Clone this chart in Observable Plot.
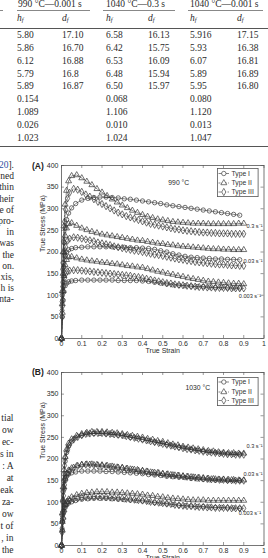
<!DOCTYPE html>
<html>
<head>
<meta charset="utf-8">
<script src="https://cdn.jsdelivr.net/npm/d3@7"></script>
<script src="https://cdn.jsdelivr.net/npm/@observablehq/plot@0.6"></script>
<style>
  html, body { margin: 0; padding: 0; background: #fff; }
  #page { position: relative; width: 268px; height: 558px; overflow: hidden; background: #fff; }
  .t { position: absolute; white-space: nowrap; font-family: "Liberation Serif", "Times New Roman", serif; font-size: 9.5px; line-height: 10px; height: 10px; color: #2a2a2a; }
  .t sub { font-size: 6.5px; vertical-align: -1px; line-height: 0; }
  .frag { text-align: right; }
  .rule { position: absolute; height: 0; }
  .chart { position: absolute; left: 0; }
  .chart svg { overflow: visible; }
  .panel { position: absolute; font: bold 8.5px "Liberation Sans", Arial, sans-serif; line-height: 10px; color: #222; }
  .legend { position: absolute; overflow: visible; }
</style>
</head>
<body>
<div id="page"></div>
<script>
// ---------- table values ----------
const groupHeads = ["990 °C—0.001 s", "1040 °C—0.3 s", "1040 °C—0.001 s"];
const tableRows = [
  ["5.80", "17.10", "6.58", "16.13", "5.916", "17.15"],
  ["5.86", "16.70", "6.42", "15.75", "5.93", "16.38"],
  ["6.12", "16.88", "6.53", "16.09", "6.07", "16.81"],
  ["5.79", "16.8", "6.48", "15.94", "5.89", "16.89"],
  ["5.89", "16.87", "6.50", "15.97", "5.95", "16.80"],
  ["0.154", "", "0.068", "", "0.080", ""],
  ["1.089", "", "1.106", "", "1.120", ""],
  ["0.026", "", "0.010", "", "0.013", ""],
  ["1.023", "", "1.024", "", "1.047", ""]
];

// ---------- body text (right-hand ends of the text column) ----------
const textLinesA = ["[<span style=\"color:#2f4f9f\">20</span>].", "ned", "thin", "heir", "e of", "pro-", "in", "was", "the", "on.", "xis,", "h is", "nta-"];
const textLinesB = ["tial", "ow", "ec-", "s in", ": A", "at", "eak", "za-", "ow", "t of", ", in", "the"];

// ---------- flow curves ----------
const types = ["Type I", "Type II", "Type III"];
const rates = ["0.3", "0.03", "0.003"];

// strain samples for each specimen type
const strainI = [0, 0.004, 0.008, 0.012, 0.018, 0.025, 0.035, 0.05, 0.07, 0.1, 0.13, 0.16, 0.19, 0.22, 0.25, 0.28, 0.31, 0.34, 0.37, 0.4, 0.43, 0.46, 0.49, 0.52, 0.55, 0.58, 0.61, 0.64, 0.67, 0.7, 0.73, 0.76, 0.79, 0.82, 0.85, 0.88];
const strainII = [0, 0.004, 0.008, 0.012, 0.018, 0.025, 0.035, 0.05, 0.075, 0.1, 0.125, 0.15, 0.175, 0.2, 0.225, 0.25, 0.275, 0.3, 0.325, 0.35, 0.375, 0.4, 0.425, 0.45, 0.475, 0.5, 0.525, 0.55, 0.575, 0.6, 0.625, 0.65, 0.675, 0.7, 0.725, 0.75, 0.775, 0.8, 0.825, 0.85, 0.875, 0.9];
const strainIII = [0, 0.003, 0.006, 0.01, 0.015, 0.02, 0.03, 0.04, 0.06, 0.08, 0.1, 0.12, 0.14, 0.16, 0.18, 0.2, 0.22, 0.24, 0.26, 0.28, 0.3, 0.32, 0.34, 0.36, 0.38, 0.4, 0.42, 0.44, 0.46, 0.48, 0.5, 0.52, 0.54, 0.56, 0.58, 0.6, 0.62, 0.64, 0.66, 0.68, 0.7, 0.72, 0.74, 0.76, 0.78, 0.8, 0.82, 0.84, 0.86, 0.88, 0.9];

// 990 °C, true stress (MPa)
const t990_r03_I = [0, 100, 175, 222, 255, 275, 290, 302, 312, 320, 324, 326, 327, 327, 326, 325, 323, 322, 320, 318, 316, 314, 312, 309, 307, 305, 303, 301, 299, 297, 295, 293, 291, 289, 287, 285];
const t990_r003_I = [0, 75, 130, 165, 190, 200, 205, 208, 210, 211, 212, 212, 212, 212, 212, 211, 211, 210, 210, 209, 208, 206, 203, 200, 196, 193, 190, 188, 187, 186, 185, 184, 184, 183, 183, 182];
const t990_r0003_I = [0, 50, 88, 108, 122, 128, 131, 133, 134, 135, 135, 135, 135, 135, 135, 134, 134, 134, 134, 133, 132, 130, 128, 126, 124, 123, 122, 121, 120, 120, 119, 118, 118, 117, 117, 117];
const t990_r03_II = [0, 110, 200, 260, 310, 342, 364, 376, 378, 371, 363, 355, 346, 338, 330, 322, 315, 308, 302, 296, 291, 286, 282, 279, 276, 274, 272, 270, 269, 268, 267, 266, 266, 266, 265, 265, 265, 265, 265, 265, 266, 266];
const t990_r003_II = [0, 80, 150, 200, 238, 255, 265, 267, 261, 255, 251, 247, 244, 241, 239, 237, 235, 233, 231, 229, 227, 226, 224, 222, 220, 219, 217, 216, 214, 213, 212, 211, 210, 209, 208, 207, 207, 206, 206, 205, 205, 205];
const t990_r0003_II = [0, 60, 110, 145, 170, 182, 188, 189, 186, 183, 181, 179, 178, 176, 175, 173, 172, 170, 168, 167, 165, 164, 161, 158, 155, 153, 150, 148, 145, 143, 140, 138, 136, 134, 132, 131, 130, 129, 128, 127, 127, 126];
const t990_r03_III = [0, 85, 160, 225, 270, 298, 324, 337, 346, 344, 339, 333, 328, 322, 316, 311, 306, 301, 296, 291, 287, 283, 280, 277, 274, 271, 268, 265, 263, 261, 259, 257, 255, 253, 252, 250, 249, 248, 247, 246, 245, 245, 244, 244, 243, 243, 243, 242, 242, 242, 242];
const t990_r003_III = [0, 65, 120, 165, 195, 212, 226, 231, 234, 233, 231, 229, 227, 225, 222, 220, 218, 216, 213, 211, 209, 207, 205, 203, 202, 200, 198, 196, 194, 193, 191, 189, 187, 185, 183, 182, 180, 179, 177, 176, 175, 174, 173, 172, 171, 171, 170, 169, 169, 168, 168];
const t990_r0003_III = [0, 50, 90, 120, 140, 149, 155, 157, 158, 158, 157, 156, 155, 154, 153, 152, 151, 150, 149, 148, 147, 146, 145, 143, 142, 140, 138, 136, 134, 132, 130, 128, 127, 125, 124, 123, 122, 121, 120, 119, 119, 118, 118, 117, 117, 117, 117, 116, 116, 116, 116];

// 1030 °C, true stress (MPa)
const t1030_r03_I = [0, 70, 125, 165, 195, 215, 230, 241, 249, 255, 258, 259, 259, 258, 257, 255, 253, 250, 248, 245, 242, 239, 236, 233, 230, 227, 225, 222, 220, 218, 216, 215, 213, 212, 211, 211];
const t1030_r003_I = [0, 55, 100, 130, 150, 160, 165, 168, 170, 172, 172, 172, 172, 171, 171, 170, 169, 168, 167, 166, 164, 163, 162, 160, 159, 158, 157, 155, 154, 153, 152, 151, 151, 150, 150, 150];
const t1030_r0003_I = [0, 35, 62, 78, 88, 94, 98, 101, 104, 107, 108, 109, 109, 109, 108, 107, 106, 105, 104, 103, 101, 99, 98, 96, 95, 93, 92, 91, 90, 90, 89, 88, 88, 87, 87, 86];
const t1030_r03_II = [0, 75, 135, 175, 205, 222, 236, 246, 254, 258, 261, 263, 263, 263, 262, 261, 260, 258, 256, 254, 252, 250, 247, 245, 242, 240, 237, 234, 232, 229, 227, 225, 223, 221, 219, 218, 216, 215, 214, 214, 213, 213];
const t1030_r003_II = [0, 55, 105, 135, 155, 166, 174, 179, 184, 187, 188, 188, 187, 186, 185, 183, 181, 180, 178, 176, 175, 173, 171, 169, 168, 166, 165, 163, 162, 160, 159, 158, 157, 156, 155, 154, 153, 153, 152, 152, 151, 151];
const t1030_r0003_II = [0, 35, 65, 82, 94, 101, 107, 112, 117, 120, 122, 123, 124, 124, 124, 123, 123, 122, 121, 120, 119, 118, 116, 115, 113, 112, 110, 109, 108, 107, 106, 105, 105, 105, 104, 104, 104, 104, 104, 104, 104, 104];
const t1030_r03_III = [0, 55, 105, 150, 185, 203, 222, 233, 245, 251, 255, 258, 259, 260, 260, 260, 259, 258, 257, 256, 255, 253, 251, 249, 247, 245, 243, 241, 239, 237, 235, 233, 231, 229, 227, 225, 223, 222, 220, 219, 217, 216, 215, 214, 213, 212, 211, 211, 210, 210, 210];
const t1030_r003_III = [0, 40, 78, 115, 140, 154, 166, 173, 180, 184, 186, 187, 187, 186, 185, 184, 183, 182, 181, 180, 179, 177, 176, 175, 173, 172, 171, 169, 168, 167, 165, 164, 163, 162, 161, 160, 159, 158, 157, 156, 155, 154, 153, 153, 152, 152, 151, 151, 150, 150, 150];
const t1030_r0003_III = [0, 30, 55, 75, 88, 95, 101, 104, 107, 109, 111, 112, 112, 113, 113, 112, 112, 111, 111, 110, 109, 108, 107, 106, 105, 104, 103, 101, 100, 99, 98, 97, 96, 94, 93, 92, 91, 91, 90, 89, 89, 88, 88, 87, 87, 87, 87, 86, 86, 86, 86];

const xTicks = [0, 0.1, 0.2, 0.3, 0.4, 0.5, 0.6, 0.7, 0.8, 0.9, 1];
const yTicks = [0, 50, 100, 150, 200, 250, 300, 350, 400];

// ---------- helpers ----------
const page = document.getElementById("page");
const strainOf = {"Type I": strainI, "Type II": strainII, "Type III": strainIII};

function rowsFor(rate, type, values) {
  return values.map((v, i) => ({strain: strainOf[type][i], stress: v, rate, type}));
}

function put(html, x, yCenter, cls, extra = "") {
  const el = document.createElement("div");
  el.className = cls;
  el.innerHTML = html;
  el.style.cssText += `left:${x}px;top:${yCenter - 5}px;${extra}`;
  page.appendChild(el);
  return el;
}

function hline(x1, x2, y, color, w = 1) {
  const el = document.createElement("div");
  el.className = "rule";
  el.style.cssText = `left:${x1}px;top:${y}px;width:${x2 - x1}px;border-top:${w}px solid ${color};`;
  page.appendChild(el);
}

// ---------- table ----------
const colX = [17, 62, 106, 148, 190, 237];
const groupX = [18, 106, 190];
const groupRule = [[17, 90], [103, 175], [188, 263], [0, 3]];
groupHeads.forEach((h, i) => put(h, groupX[i], 4, "t"));
groupRule.forEach(([a, b]) => hline(a, b, 9.5, "#888"));
colX.forEach((x, i) => put(i % 2 === 0 ? "<i>h<sub>f</sub></i>" : "<i>d<sub>f</sub></i>", x, 17.5, "t"));
hline(0, 268, 28, "#555");
tableRows.forEach((row, r) => {
  row.forEach((v, c) => { if (v) put(v, colX[c], 35 + r * 12.84, "t"); });
});
hline(0, 268, 146, "#555");

// ---------- text column ----------
textLinesA.forEach((s, i) => put(s, -60, 165 + i * 11.2, "t frag", "width:74px;"));
textLinesB.forEach((s, i) => put(s, -60, 418 + i * 12, "t frag", "width:73.5px;"));

// ---------- charts ----------
const lineDash = {"Type I": null, "Type II": "2,1.2", "Type III": "3,1.5"};
const symbolRange = ["circle", "triangle", "diamond"];
const symbolScale = Plot.scale({symbol: {domain: types, range: symbolRange}});
const ink = "#333";

function drawLegend(left, top, rowsY) {
  const w = 41.5, h = 29;
  const svg = d3.create("svg").attr("class", "legend").attr("width", w).attr("height", h)
    .style("left", left + "px").style("top", top + "px");
  svg.append("rect").attr("x", 0.4).attr("y", 0.4).attr("width", w - 0.8).attr("height", h - 0.8)
    .attr("fill", "#fff").attr("stroke", "#555").attr("stroke-width", 0.8);
  types.forEach((t, i) => {
    const y = rowsY[i];
    svg.append("line").attr("x1", 1.5).attr("x2", 12).attr("y1", y).attr("y2", y)
      .attr("stroke", ink).attr("stroke-width", 0.6).attr("stroke-dasharray", lineDash[t]);
    svg.append("path").attr("transform", `translate(6.8,${y})`)
      .attr("d", d3.symbol(symbolScale.apply(t), Math.PI * 2.2 * 2.2)())
      .attr("fill", "#fff").attr("stroke", ink).attr("stroke-width", 0.65);
    svg.append("text").attr("x", 14.5).attr("y", y).attr("dy", "0.35em")
      .attr("font-family", "'Liberation Sans', Arial, sans-serif").attr("font-size", 6.8)
      .attr("fill", "#333").text(t);
  });
  page.appendChild(svg.node());
}

function drawChart({rows, top, temp, tempDx, tempDy, labelDy, labelDx, legendTop, legendRows}) {
  const W = 268, H = 215, ML = 61, MR = 4.5, MT = 15, MB = 27;
  const plotW = W - ML - MR, plotH = H - MT - MB;
  const tickPx = 3;
  const yLen = 400 * tickPx / plotH, xLen = tickPx / plotW;

  const marks = [];
  types.forEach(t => {
    marks.push(Plot.line(rows.filter(d => d.type === t), {
      x: "strain", y: "stress", z: "rate", stroke: ink, strokeWidth: 0.6,
      strokeDasharray: lineDash[t]
    }));
  });
  marks.push(Plot.dot(rows, {x: "strain", y: "stress", symbol: "type", r: 2.2, stroke: ink, strokeWidth: 0.7, fill: "none"}));
  marks.push(Plot.frame({stroke: "#555", strokeWidth: 0.8}));
  // inward tick marks on all four sides
  marks.push(Plot.ruleX(xTicks, {x: d => d, y1: 0, y2: yLen, stroke: "#555", strokeWidth: 0.6}));
  marks.push(Plot.ruleX(xTicks, {x: d => d, y1: 400 - yLen, y2: 400, stroke: "#555", strokeWidth: 0.6}));
  marks.push(Plot.ruleY(yTicks, {y: d => d, x1: 0, x2: xLen, stroke: "#555", strokeWidth: 0.6}));
  marks.push(Plot.ruleY(yTicks, {y: d => d, x1: 1 - xLen, x2: 1, stroke: "#555", strokeWidth: 0.6}));
  marks.push(Plot.axisX({ticks: xTicks, tickSize: 0, tickPadding: 2.5, tickFormat: d => String(d), label: null}));
  marks.push(Plot.axisY({ticks: yTicks, tickSize: 0, tickPadding: 3, tickFormat: d => String(d), label: null}));
  marks.push(Plot.text(["True Strain"], {frameAnchor: "bottom", dy: 14, fontSize: 7}));
  marks.push(Plot.text(["True Stress (MPa)"], {frameAnchor: "left", rotate: -90, dx: -19, fontSize: 7}));
  marks.push(Plot.text([temp], {frameAnchor: "top", dx: tempDx, dy: tempDy, fontSize: 6.8}));
  rates.forEach((r, i) => {
    const vals = rows.filter(d => d.type === "Type II" && d.rate === r);
    const end = vals[vals.length - 1];
    marks.push(Plot.text([end], {
      y: "stress", text: () => `${r} s⁻¹`, frameAnchor: "right", textAnchor: "end",
      dx: labelDx[i], dy: labelDy[i], fontSize: 5.6
    }));
  });

  const svg = Plot.plot({
    width: W, height: H,
    marginLeft: ML, marginRight: MR, marginTop: MT, marginBottom: MB,
    x: {domain: [0, 1]},
    y: {domain: [0, 400]},
    symbol: {domain: types, range: symbolRange},
    style: {fontFamily: "'Liberation Sans', Arial, sans-serif", fontSize: "7px", color: "#2a2a2a", background: "transparent", overflow: "visible"},
    marks
  });
  const wrap = document.createElement("div");
  wrap.className = "chart";
  wrap.style.top = top + "px";
  wrap.appendChild(svg);
  page.appendChild(wrap);

  drawLegend(217, legendTop, legendRows);
}

const rows990 = [
  ...rowsFor("0.3", "Type I", t990_r03_I), ...rowsFor("0.03", "Type I", t990_r003_I), ...rowsFor("0.003", "Type I", t990_r0003_I),
  ...rowsFor("0.3", "Type II", t990_r03_II), ...rowsFor("0.03", "Type II", t990_r003_II), ...rowsFor("0.003", "Type II", t990_r0003_II),
  ...rowsFor("0.3", "Type III", t990_r03_III), ...rowsFor("0.03", "Type III", t990_r003_III), ...rowsFor("0.003", "Type III", t990_r0003_III)
];
const rows1030 = [
  ...rowsFor("0.3", "Type I", t1030_r03_I), ...rowsFor("0.03", "Type I", t1030_r003_I), ...rowsFor("0.003", "Type I", t1030_r0003_I),
  ...rowsFor("0.3", "Type II", t1030_r03_II), ...rowsFor("0.03", "Type II", t1030_r003_II), ...rowsFor("0.003", "Type II", t1030_r0003_II),
  ...rowsFor("0.3", "Type III", t1030_r03_III), ...rowsFor("0.03", "Type III", t1030_r003_III), ...rowsFor("0.003", "Type III", t1030_r0003_III)
];

drawChart({rows: rows990, top: 150, temp: "990 °C", tempDx: 16, tempDy: 15,
  labelDx: [-1.5, -1.5, -3], labelDy: [3, 11, 12.5], legendTop: 167.5, legendRows: [5.5, 15, 24]});
drawChart({rows: rows1030, top: 357, temp: "1030 °C", tempDx: 35, tempDy: 13,
  labelDx: [-1.5, -1.5, -3], labelDy: [-7, -5.5, 12.5], legendTop: 376.5, legendRows: [5, 15, 23.5]});

// panel letters
put("(A)", 32, 166, "panel");
put("(B)", 32, 372, "panel");
</script>
</body>
</html>
